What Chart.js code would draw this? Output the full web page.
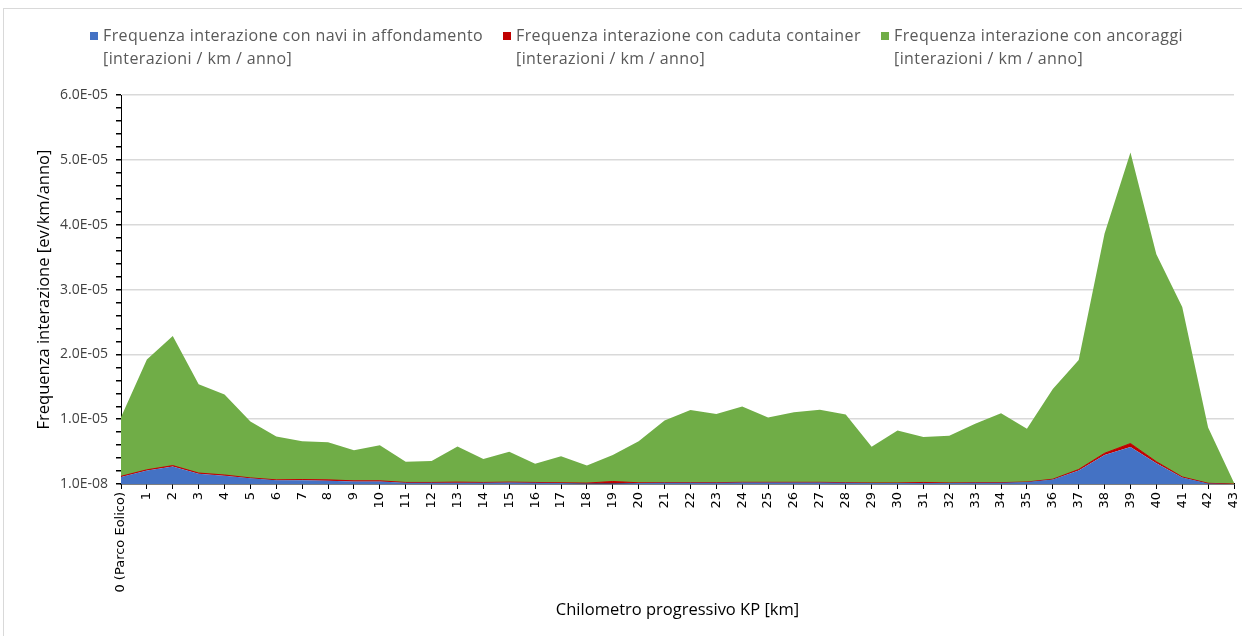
<!DOCTYPE html>
<html>
<head>
<meta charset="utf-8">
<script src="https://cdn.jsdelivr.net/npm/chart.js@4.4.0/dist/chart.umd.min.js"></script>
<style>
html, body { margin: 0; padding: 0; background: #fff; }
#wrap { position: relative; width: 1242px; height: 636px; overflow: hidden; }
#frame { position: absolute; left: 3px; top: 8px; width: 1260px; height: 660px; border: 1px solid #d9d9d9; }
#chart { position: absolute; left: 0; top: 0; }
.item { position: absolute; top: 24px; font-family: 'Open Sans'; font-size: 16px; letter-spacing: 0.4px; line-height: 23px; color: #595959; white-space: nowrap; }
.box { position: absolute; left: -13px; top: 8px; width: 8px; height: 8px; }
</style>
</head>
<body>
<div id="wrap">
  <div id="frame"></div>
  <canvas id="chart" width="1242" height="636"></canvas>
  <div id="legend"></div>
</div>
<script>
// categories (km)
const kpLabels = ['0 (Parco Eolico)', '1', '2', '3', '4', '5', '6', '7', '8', '9', '10',
  '11', '12', '13', '14', '15', '16', '17', '18', '19', '20', '21', '22', '23', '24', '25',
  '26', '27', '28', '29', '30', '31', '32', '33', '34', '35', '36', '37', '38', '39', '40',
  '41', '42', '43'];

// navi in affondamento
const affondamento = [1.1e-6, 2.1e-6, 2.7e-6, 1.6e-6, 1.3e-6, 0.9e-6, 0.6e-6, 0.6e-6, 0.5e-6, 0.4e-6,
  0.4e-6, 0.2e-6, 0.2e-6, 0.2e-6, 0.2e-6, 0.25e-6, 0.2e-6, 0.15e-6, 0.1e-6, 0.1e-6,
  0.15e-6, 0.2e-6, 0.2e-6, 0.2e-6, 0.25e-6, 0.25e-6, 0.25e-6, 0.25e-6, 0.2e-6, 0.15e-6,
  0.15e-6, 0.15e-6, 0.15e-6, 0.2e-6, 0.2e-6, 0.3e-6, 0.7e-6, 2.1e-6, 4.5e-6, 5.7e-6,
  3.2e-6, 1.0e-6, 0.1e-6, 0];

// caduta container
const container = [0.1e-6, 0.1e-6, 0.15e-6, 0.1e-6, 0.1e-6, 0.05e-6, 0.05e-6, 0.1e-6, 0.15e-6, 0.1e-6,
  0.1e-6, 0.05e-6, 0.05e-6, 0.1e-6, 0.05e-6, 0.05e-6, 0.05e-6, 0.05e-6, 0.05e-6, 0.3e-6,
  0.05e-6, 0.02e-6, 0.02e-6, 0.02e-6, 0.02e-6, 0.02e-6, 0.02e-6, 0.02e-6, 0.02e-6, 0.02e-6,
  0.02e-6, 0.1e-6, 0.02e-6, 0.02e-6, 0.02e-6, 0.02e-6, 0.05e-6, 0.15e-6, 0.25e-6, 0.55e-6,
  0.25e-6, 0.1e-6, 0.02e-6, 0];

// ancoraggi
const ancoraggi = [9.1e-6, 17.0e-6, 20.0e-6, 13.7e-6, 12.4e-6, 8.7e-6, 6.7e-6, 5.9e-6, 5.8e-6, 4.7e-6,
  5.5e-6, 3.2e-6, 3.3e-6, 5.5e-6, 3.6e-6, 4.7e-6, 2.9e-6, 4.1e-6, 2.7e-6, 4.1e-6,
  6.4e-6, 9.6e-6, 11.2e-6, 10.6e-6, 11.7e-6, 10.0e-6, 10.8e-6, 11.2e-6, 10.5e-6, 5.6e-6,
  8.1e-6, 7.0e-6, 7.3e-6, 9.1e-6, 10.7e-6, 8.2e-6, 13.9e-6, 16.9e-6, 33.9e-6, 44.9e-6,
  32.0e-6, 26.2e-6, 8.6e-6, 0.2e-6];

const yTickLabels = ['1.0E-08', '1.0E-05', '2.0E-05', '3.0E-05', '4.0E-05', '5.0E-05', '6.0E-05'];
const minorPerMajor = 5;

const seriesNames = [
  ['Frequenza interazione con navi in affondamento', '[interazioni / km / anno]'],
  ['Frequenza interazione con caduta container', '[interazioni / km / anno]'],
  ['Frequenza interazione con ancoraggi', '[interazioni / km / anno]']
];
const seriesColors = ['#4472C4', '#C00000', '#70AD47'];

const majorValues = yTickLabels.map(t => parseFloat(t));
const yTickValues = [];
for (let i = 0; i < majorValues.length - 1; i++) {
  const step = (majorValues[i + 1] - majorValues[i]) / minorPerMajor;
  for (let k = 0; k < minorPerMajor; k++) yTickValues.push(majorValues[i] + k * step);
}
yTickValues.push(majorValues[majorValues.length - 1]);

function sci(v) {
  const parts = v.toExponential(1).split('e');
  const n = parseInt(parts[1], 10);
  return parts[0] + 'E' + (n < 0 ? '-' : '+') + String(Math.abs(n)).padStart(2, '0');
}

// html legend
const legendEl = document.getElementById('legend');
const legendLeft = [103, 516, 894];
seriesNames.forEach((lines, i) => {
  const item = document.createElement('div');
  item.className = 'item';
  item.style.left = legendLeft[i] + 'px';
  item.innerHTML = '<span class="box" style="background:' + seriesColors[i] + '"></span>' + lines.join('<br>');
  legendEl.appendChild(item);
});

const ctx = document.getElementById('chart').getContext('2d');
const chart = new Chart(ctx, {
  type: 'line',
  data: {
    labels: kpLabels,
    datasets: [
      { label: seriesNames[0].join(' '), data: affondamento, backgroundColor: seriesColors[0],
        borderColor: seriesColors[0], borderWidth: 0, fill: 'origin' },
      { label: seriesNames[1].join(' '), data: container, backgroundColor: seriesColors[1],
        borderColor: seriesColors[1], borderWidth: 1, fill: '-1' },
      { label: seriesNames[2].join(' '), data: ancoraggi, backgroundColor: seriesColors[2],
        borderColor: seriesColors[2], borderWidth: 0, fill: '-1' }
    ]
  },
  options: {
    responsive: false,
    animation: false,
    layout: { padding: { left: 34, top: 95, right: 8, bottom: 0 } },
    elements: { point: { radius: 0 }, line: { tension: 0 } },
    plugins: { legend: { display: false }, tooltip: { enabled: false } },
    scales: {
      x: {
        stacked: true,
        afterFit: (scale) => { scale.height = 152; scale.paddingRight = 0; scale.paddingLeft = 0; },
        grid: { drawOnChartArea: false, tickLength: 5, color: '#000' },
        border: { color: '#000', width: 1.5 },
        ticks: { autoSkip: false, maxRotation: 90, minRotation: 90, padding: 3,
          color: '#000', font: { family: 'DejaVu Sans', size: 13 } },
        title: { display: true, text: 'Chilometro progressivo KP [km]', color: '#000',
          font: { family: 'Open Sans', size: 16.5 }, padding: { top: 0, bottom: 16 } }
      },
      y: {
        stacked: true,
        min: majorValues[0],
        max: majorValues[majorValues.length - 1],
        afterFit: (scale) => { scale.width = 87; },
        afterBuildTicks: (scale) => { scale.ticks = yTickValues.map(v => ({ value: v })); },
        grid: {
          tickLength: 5,
          color: (c) => (c.index % minorPerMajor === 0 && c.index > 0) ? '#d9d9d9' : 'rgba(0,0,0,0)',
          tickColor: '#000',
          lineWidth: 1.5
        },
        border: { color: '#000', width: 1 },
        ticks: {
          autoSkip: false,
          padding: 8,
          color: '#404040',
          font: { family: 'Open Sans', size: 14 },
          callback: (v, i) => (i % minorPerMajor === 0) ? sci(v) : ''
        },
        title: { display: true, text: 'Frequenza interazione [ev/km/anno]', color: '#000',
          font: { family: 'Open Sans', size: 16.5 }, padding: 0 }
      }
    }
  }
});
</script>
</body>
</html>
